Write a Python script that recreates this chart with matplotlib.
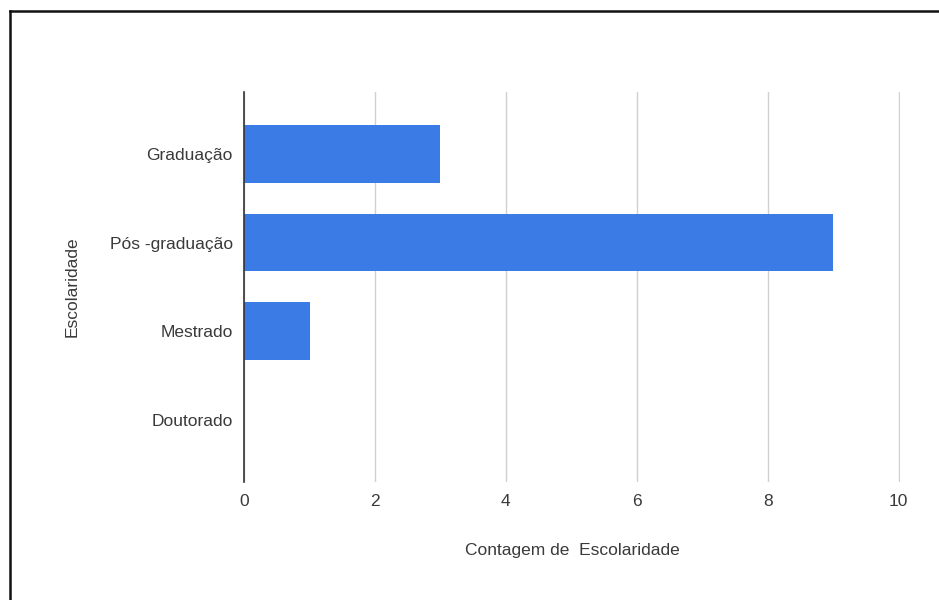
import matplotlib
matplotlib.use('Agg')
import matplotlib.pyplot as plt
from matplotlib.lines import Line2D

categories = ['Graduação', 'Pós -graduação', 'Mestrado', 'Doutorado']
counts = [3, 9, 1, 0]
x_ticks = [0, 2, 4, 6, 8, 10]

BAR_COLOR = '#3b7be6'
TEXT_COLOR = '#3a3a3a'
FS = 12.5

plt.rcParams['font.family'] = ['Liberation Sans', 'DejaVu Sans']

fig = plt.figure(figsize=(9.39, 6.0), dpi=100, facecolor='white')
ax = fig.add_axes([0.2599, 0.1967, 0.6986, 0.65])

ypos = list(range(len(categories)))
ax.barh(ypos, counts, height=0.65, color=BAR_COLOR, zorder=3)
ax.set_ylim(len(categories) - 0.3, -0.7)
ax.set_xlim(0, 10.02)

ax.set_xticks(x_ticks)
ax.set_xticklabels([str(t) for t in x_ticks])
ax.set_yticks(ypos)
ax.set_yticklabels(categories)
ax.tick_params(axis='both', length=0, labelsize=FS, colors=TEXT_COLOR)
ax.tick_params(axis='x', pad=9)
ax.tick_params(axis='y', pad=8)

ax.grid(axis='x', color='#d0d0d0', linewidth=1, zorder=0)
for s in ['top', 'right', 'bottom']:
    ax.spines[s].set_visible(False)
ax.spines['left'].set_color('#333333')
ax.spines['left'].set_linewidth(1.2)
ax.spines['left'].set_zorder(4)

ax.set_xlabel('Contagem de  Escolaridade', fontsize=FS, color=TEXT_COLOR, labelpad=24)
ax.set_ylabel('Escolaridade', fontsize=FS, color=TEXT_COLOR, labelpad=22)

# outer frame (top and left only, as in the screenshot)
fig.add_artist(Line2D([9.5 / 939, 1], [1 - 11 / 600, 1 - 11 / 600],
                      transform=fig.transFigure, color='#111111', linewidth=1.8))
fig.add_artist(Line2D([9.5 / 939, 9.5 / 939], [0, 1 - 11 / 600],
                      transform=fig.transFigure, color='#111111', linewidth=1.8))

fig.savefig('out.png', dpi=100, facecolor='white')
